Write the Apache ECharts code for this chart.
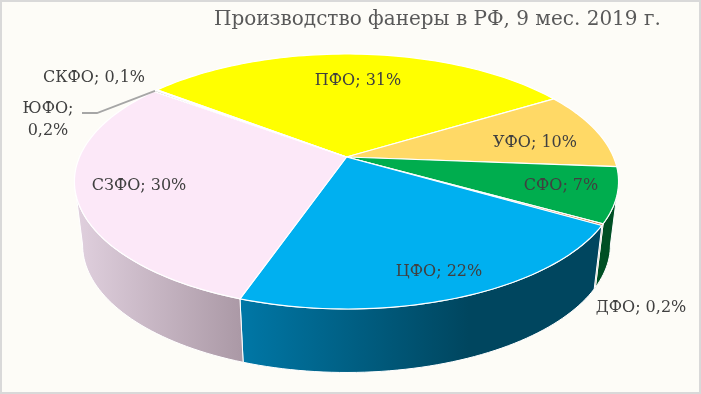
<!DOCTYPE html>
<html>
<head>
<meta charset="utf-8">
<style>
html, body { margin: 0; padding: 0; background: #fdfcf7; }
#main { position: absolute; left: 0; top: 0; width: 701px; height: 394px; }
#frame { position: absolute; left: 0; top: 0; width: 697px; height: 390px; border: 2px solid #d9d9d9; pointer-events: none; }
</style>
<script src="https://cdn.jsdelivr.net/npm/echarts@6/dist/echarts.min.js"></script>
</head>
<body>
<div id="main"></div>
<div id="frame"></div>
<script>
const titleText = 'Производство фанеры в РФ, 9 мес. 2019 г.';
const regions = ['ПФО', 'УФО', 'СФО', 'ДФО', 'ЦФО', 'СЗФО', 'ЮФО', 'СКФО'];
const shares = [31, 10, 7, 0.2, 22, 30, 0.2, 0.1];
const shareLabels = ['31%', '10%', '7%', '0,2%', '22%', '30%', '0,2%', '0,1%'];

const topColors = ['#ffff00', '#ffd966', '#00ad4e', '#c55a11', '#00b0f0', '#fce8f8', '#a6a6a6', '#e8e8e8'];
const wallFills = ['#999900', '#997f3d', '#004f24', '#763600', null, null, '#7a7a7a', '#999999'];
const labelAnchors = [
	[358, 81], [535, 143], [561, 186], [641, 308], [439, 272], [139, 186], [48, 120], [94, 78]
];

const START_DEG = -52.4;
const TEXT_FONT = '"DejaVu Serif", serif';

// pie top as seen in perspective: the centre is not the centre of the ellipse
const topDisc = { x0: 346.5, y0: 157, dx: 267, a: 122.8, c: -0.192 };
const baseDisc = { x0: 346.5, y0: 220.5, dx: 259, a: 122.8, c: -0.192 };
// the wall is only seen between the left and right extremes of the disc
const WALL_FROM = Math.acos(topDisc.c) * 180 / Math.PI;
const WALL_TO = 360 - WALL_FROM;

function project(disc, deg) {
	const r = deg * Math.PI / 180;
	const u = Math.sin(r);
	const v = -Math.cos(r);
	const w = 1 + disc.c * v;
	return [disc.x0 + disc.dx * u / w, disc.y0 + disc.a * v / w];
}

function arc(disc, from, to) {
	const pts = [];
	const n = Math.max(2, Math.ceil((to - from) / 1.5));
	for (let i = 0; i <= n; i++) {
		pts.push(project(disc, from + (to - from) * i / n));
	}
	return pts;
}

const total = shares.reduce((s, v) => s + v, 0);

function sliceRange(idx) {
	let from = START_DEG;
	for (let i = 0; i < idx; i++) from += shares[i] / total * 360;
	return [from, from + shares[idx] / total * 360];
}

function wallStyle(idx) {
	if (regions[idx] === 'ЦФО') {
		return new echarts.graphic.LinearGradient(241, 0, 597, 0, [
			{ offset: 0, color: '#0077a6' },
			{ offset: 0.64, color: '#00465f' },
			{ offset: 1, color: '#00465f' }
		], true);
	}
	if (regions[idx] === 'СЗФО') {
		return new echarts.graphic.LinearGradient(76, 0, 241, 0, [
			{ offset: 0, color: '#e0d0de' },
			{ offset: 1, color: '#ab99a6' }
		], true);
	}
	return wallFills[idx];
}

let myChart = echarts.init(document.getElementById('main'), null, { renderer: 'canvas' });

let option = {
	animation: false,
	backgroundColor: 'transparent',
	title: {
		text: titleText,
		left: 214,
		top: 10,
		padding: 0,
		textStyle: {
			color: '#595959',
			fontFamily: TEXT_FONT,
			fontWeight: 'normal',
			fontSize: 20
		}
	},
	series: [
		{
			// side wall
			type: 'custom',
			coordinateSystem: 'none',
			silent: true,
			z: 1,
			data: shares.map((v, i) => [i, v]),
			renderItem: function(params, api) {
				const idx = api.value(0);
				const [start, end] = sliceRange(idx);
				const from = Math.max(start, WALL_FROM);
				const to = Math.min(end, WALL_TO);
				if (to <= from) {
					return null;
				}
				const points = arc(topDisc, from, to).concat(arc(baseDisc, from, to).reverse());
				return {
					type: 'polygon',
					shape: { points: points },
					style: { fill: wallStyle(idx), stroke: '#ffffff', lineWidth: 1 }
				};
			}
		},
		{
			// top of the pie
			type: 'custom',
			coordinateSystem: 'none',
			silent: true,
			z: 2,
			data: shares.map((v, i) => [i, v]),
			renderItem: function(params, api) {
				const idx = api.value(0);
				const [from, to] = sliceRange(idx);
				const points = [[topDisc.x0, topDisc.y0]].concat(arc(topDisc, from, to));
				return {
					type: 'polygon',
					shape: { points: points },
					style: { fill: topColors[idx], stroke: '#ffffff', lineWidth: 1.2 }
				};
			}
		},
		{
			// leader line of ЮФО and all the labels
			type: 'custom',
			coordinateSystem: 'none',
			silent: true,
			z: 3,
			data: shares.map((v, i) => [i, v]),
			renderItem: function(params, api) {
				const idx = api.value(0);
				const anchor = labelAnchors[idx];
				const wrap = regions[idx] === 'ЮФО';
				const children = [{
					type: 'text',
					style: {
						x: anchor[0],
						y: anchor[1],
						text: regions[idx] + (wrap ? ';\n' : '; ') + shareLabels[idx],
						fill: '#404040',
						font: '16px ' + TEXT_FONT,
						lineHeight: 22,
						align: 'center',
						verticalAlign: 'middle'
					}
				}];
				if (wrap) {
					const [from, to] = sliceRange(idx);
					const tip = project(topDisc, (from + to) / 2);
					children.push({
						type: 'polyline',
						shape: { points: [tip, [97, 113], [82, 113]] },
						style: { fill: null, stroke: '#a6a6a6', lineWidth: 1.8 }
					});
				}
				return { type: 'group', children: children };
			}
		}
	]
};

myChart.setOption(option);
</script>
</body>
</html>
